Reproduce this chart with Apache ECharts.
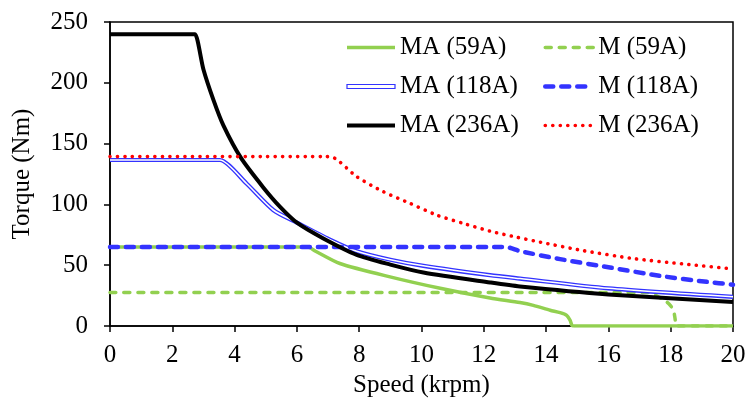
<!DOCTYPE html>
<html>
<head>
<meta charset="utf-8">
<script src="https://cdn.jsdelivr.net/npm/echarts@6/dist/echarts.min.js"></script>
<style>html,body{margin:0;padding:0;background:#fff}#c{width:749px;height:403px}</style>
</head>
<body>
<div id="c"></div>
<script>
// ---- data (speed in krpm, torque in Nm) ----
const speedMA59 = [0, 6.2, 6.35, 6.6, 7.38, 8.99, 10.6, 12.2, 13.16, 13.59, 14.13, 14.45, 14.66, 14.77, 14.83, 14.9, 20];
const torqueMA59 = [65, 65, 65, 61.5, 51.4, 40.4, 31, 23, 19.3, 17, 13, 11, 8.8, 4.7, 0.5, 0, 0];

const speedM59 = [0, 17.2, 17.3, 17.6, 17.87, 18.0, 18.09, 18.14, 18.18, 18.3, 20];
const torqueM59 = [27.5, 27.5, 27.5, 24, 19.8, 16.5, 12.9, 6.1, 0, 0, 0];

const speedMA118 = [0, 3.45, 3.53, 4.39, 5.24, 6.0, 7.06, 7.92, 9.0, 10.06, 12.2, 13.16, 16, 20];
const torqueMA118 = [136.5, 136.5, 136.5, 117, 95.4, 85, 71, 61.5, 54.5, 49.5, 41.8, 39, 31, 24];

const speedM118 = [0, 12.5, 12.7, 13.16, 14.45, 16.05, 17.66, 19.16, 20];
const torqueM118 = [65, 65, 65, 61.6, 55, 48.1, 41.2, 36.3, 34];

const speedMA236 = [0, 2.68, 2.73, 3.0, 3.32, 3.64, 4.21, 4.92, 5.46, 6.0, 6.85, 7.92, 9.0, 10.06, 12.2, 13.16, 16, 20];
const torqueMA236 = [240, 240, 240, 211, 186, 165, 138, 114, 98, 85, 72, 58.5, 50.5, 44, 35.8, 32.5, 26, 19.8];

const speedM236 = [0, 6.9, 7.12, 7.92, 8.77, 9.63, 10.49, 11.34, 12.2, 13.06, 13.8, 15.19, 16.8, 18.4, 20];
const torqueM236 = [139.3, 139.3, 139, 122.8, 110.5, 100.9, 91.2, 84.4, 78, 73, 69, 62, 55.5, 51, 47];

const xTicks = [0, 2, 4, 6, 8, 10, 12, 14, 16, 18, 20];
const yTicks = [0, 50, 100, 150, 200, 250];

function pairs(xs, ys) { return xs.map((x, i) => [x, ys[i]]); }

const FONT = '"Liberation Serif", "Times New Roman", serif';
const FS = 25;
const GREEN = '#92d050', BLUE = '#3333ff', RED = '#ff0000', BLACK = '#000000';

const chart = echarts.init(document.getElementById('c'), null, {renderer: 'canvas'});

function lineSeries(name, data, color, width, type, cap, z) {
  return {
    name: name, type: 'line', data: data, symbol: 'none', showSymbol: false,
    smooth: 0.25, animation: false, z: z,
    lineStyle: {color: color, width: width, type: type, cap: cap || 'butt', join: 'round'},
    itemStyle: {color: color}
  };
}

const legendBase = {
  orient: 'vertical', top: 30, itemWidth: 48, itemHeight: 14, itemGap: 14,
  textStyle: {fontFamily: FONT, fontSize: FS, color: '#000', lineHeight: 25},
  itemStyle: {color: 'rgba(0,0,0,0)', borderWidth: 0},
  lineStyle: {width: 'inherit'},
  selectedMode: false
};

chart.setOption({
  animation: false,
  backgroundColor: '#fff',
  grid: {left: 110, right: 16, top: 22, bottom: 77, show: true, borderColor: '#000', borderWidth: 1.5, backgroundColor: 'transparent'},
  legend: [
    Object.assign({}, legendBase, {left: 340, data: [
      {name: 'MA (59A)'},
      {name: 'MA (118A)', icon: 'path://M0,0 L48,0 L48,4 L0,4 Z', itemStyle: {color: '#fff', borderColor: BLUE, borderWidth: 1.2}},
      {name: 'MA (236A)'}
    ]}),
    Object.assign({}, legendBase, {left: 538, data: [
      {name: 'M (59A)'}, {name: 'M (118A)'}, {name: 'M (236A)'}
    ]})
  ],
  xAxis: {
    type: 'value', min: xTicks[0], max: xTicks[xTicks.length - 1], interval: 2,
    name: 'Speed (krpm)', nameLocation: 'middle', nameGap: 46,
    nameTextStyle: {fontFamily: FONT, fontSize: FS, color: '#000'},
    axisLine: {show: true, lineStyle: {color: '#000', width: 1.5}},
    axisTick: {show: true, inside: false, length: 6, lineStyle: {color: '#000', width: 1.5}},
    axisLabel: {fontFamily: FONT, fontSize: FS, color: '#000', margin: 17},
    splitLine: {show: false}
  },
  yAxis: {
    type: 'value', min: yTicks[0], max: yTicks[yTicks.length - 1], interval: 50,
    name: 'Torque (Nm)', nameLocation: 'middle', nameGap: 75,
    nameTextStyle: {fontFamily: FONT, fontSize: FS, color: '#000'},
    axisLine: {show: true, lineStyle: {color: '#000', width: 1.5}},
    axisTick: {show: true, inside: false, length: 6, lineStyle: {color: '#000', width: 1.5}},
    axisLabel: {fontFamily: FONT, fontSize: FS, color: '#000', margin: 22},
    splitLine: {show: false}
  },
  series: [
    lineSeries('MA (59A)', pairs(speedMA59, torqueMA59), GREEN, 3.5, 'solid', 'butt', 2),
    lineSeries('M (59A)', pairs(speedM59, torqueM59), GREEN, 3.5, [6, 8], 'round', 3),
    lineSeries('MA (118A)', pairs(speedMA118, torqueMA118), BLUE, 4.2, 'solid', 'butt', 4),
    lineSeries('MA118inner', pairs(speedMA118, torqueMA118), '#ffffff', 1.6, 'solid', 'butt', 5),
    lineSeries('M (118A)', pairs(speedM118, torqueM118), BLUE, 4.5, [8, 8], 'round', 6),
    lineSeries('MA (236A)', pairs(speedMA236, torqueMA236), BLACK, 4, 'solid', 'butt', 7),
    lineSeries('M (236A)', pairs(speedM236, torqueM236), RED, 3.6, [0.1, 7.4], 'round', 8)
  ]
});
</script>
</body>
</html>
